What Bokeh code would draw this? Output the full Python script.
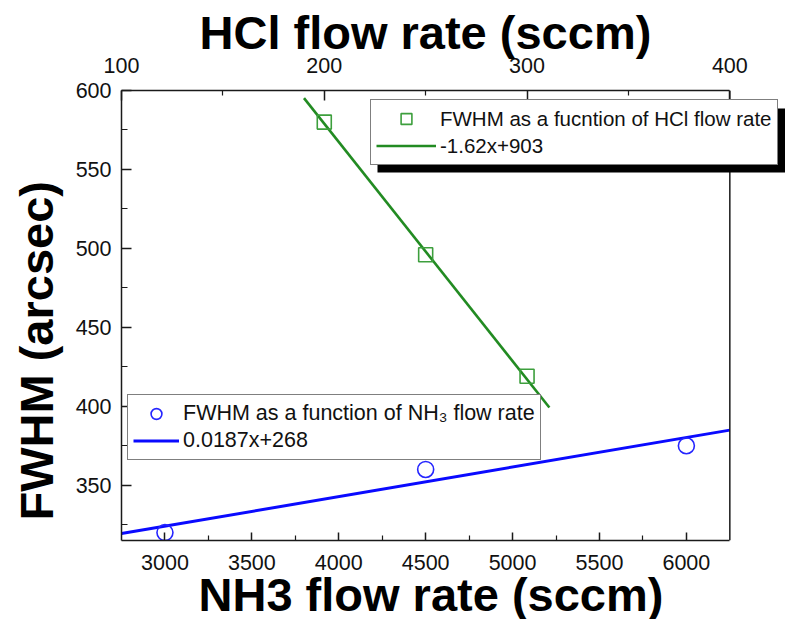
from bokeh.plotting import figure
from bokeh.models import (Range1d, LinearAxis, FixedTicker, Legend, LegendItem,
                          BoxAnnotation, Span, Title)
from bokeh.embed import file_html
from bokeh.resources import INLINE

# ---------------- data ----------------
nh3_flow = [3000, 4500, 6000]
nh3_fwhm = [320, 360, 375]
nh3_fit_x = [2750, 6250]
nh3_fit_y = [319.4, 384.9]

hcl_flow = [200, 250, 300]
hcl_fwhm = [580, 496, 419]
hcl_fit_x = [190, 311]
hcl_fit_y = [595.2, 399.2]

nh3_ticks = [3000, 3500, 4000, 4500, 5000, 5500, 6000]
nh3_minor = [3250, 3750, 4250, 4750, 5250, 5750]
hcl_ticks = [100, 200, 300, 400]
hcl_minor = [150, 250, 350]
fwhm_ticks = [350, 400, 450, 500, 550, 600]
fwhm_minor = [325, 375, 425, 475, 525, 575]

nh3_range = (2750, 6250)
hcl_range = (100, 400)
fwhm_range = (315, 600)

label_nh3 = "FWHM as a function of NH\u2083 flow rate"
label_nh3_fit = "0.0187x+268"
label_hcl = "FWHM as a fucntion of HCl flow rate"
label_hcl_fit = "-1.62x+903"
title_x = "NH3 flow rate (sccm)"
title_top = "HCl flow rate (sccm)"
title_y = "FWHM (arcsec)"

# ---------------- layout / styles ----------------
W, H = 785, 619
FRAME_L, FRAME_R, FRAME_T, FRAME_B = 117, 729, 90, 540   # axes box in pixels
FONT = "Liberation Sans"
TICK_SIZE = "21.5px"
TITLE_SIZE = "47px"
GREEN_LINE = "#228b22"
GREEN_MARK = "#3d9f3d"
BLUE_LINE = "#0a0aff"
BLUE_MARK = "#2525ff"
AX = "#1a1a1a"

# the plotting frame runs to the right canvas edge so that the legend box can
# overhang the axes box, as in the original; the axes are bounded to the box.
ext = (W - FRAME_L) / (FRAME_R - FRAME_L)
x_end = nh3_range[0] + (nh3_range[1] - nh3_range[0]) * ext
hcl_end = hcl_range[0] + (hcl_range[1] - hcl_range[0]) * ext

p = figure(width=W, height=H, output_backend="svg", toolbar_location=None,
           tools="", x_range=Range1d(nh3_range[0], x_end),
           y_range=Range1d(*fwhm_range),
           min_border_left=FRAME_L, min_border_right=0, min_border_top=FRAME_T,
           min_border_bottom=H - FRAME_B, background_fill_color="white",
           border_fill_color="white")
p.extra_x_ranges = {"hcl": Range1d(hcl_range[0], hcl_end)}
p.xgrid.visible = False
p.ygrid.visible = False
p.outline_line_color = None


def style_axis(ax, standoff, tin, mtin):
    ax.axis_line_color = AX
    ax.axis_line_width = 1.5
    ax.major_tick_line_color = AX
    ax.major_tick_line_width = 1.5
    ax.minor_tick_line_color = AX
    ax.minor_tick_line_width = 1.2
    ax.major_tick_in = tin
    ax.major_tick_out = 0
    ax.minor_tick_in = mtin
    ax.minor_tick_out = 0
    ax.major_label_text_font = FONT
    ax.major_label_text_font_size = TICK_SIZE
    ax.major_label_text_color = "#111111"
    ax.major_label_standoff = standoff


bx = p.xaxis[0]
bx.ticker = FixedTicker(ticks=nh3_ticks, minor_ticks=nh3_minor)
bx.bounds = nh3_range
style_axis(bx, 14, 8, 5)

ly = p.yaxis[0]
ly.ticker = FixedTicker(ticks=fwhm_ticks, minor_ticks=fwhm_minor)
style_axis(ly, 10, 10, 6)

tx = LinearAxis(x_range_name="hcl", bounds=hcl_range)
tx.ticker = FixedTicker(ticks=hcl_ticks, minor_ticks=hcl_minor)
style_axis(tx, 18, 10, 5)
p.add_layout(tx, "above")


def make_title(text, offset, valign, standoff):
    return Title(text=text, align="left", offset=offset, vertical_align=valign,
                 standoff=standoff, text_font=FONT, text_font_size=TITLE_SIZE,
                 text_font_style="bold", text_color="black")


p.add_layout(make_title(title_x, 77, "top", -10), "below")
p.add_layout(make_title(title_top, 78, "bottom", -8), "above")
p.add_layout(make_title(title_y, 20, "middle", 17), "left")

# right side of the axes box
p.add_layout(Span(location=nh3_range[1], dimension="height", line_color=AX,
                  line_width=1.5))

# ---------------- glyphs ----------------
b_line = p.line(nh3_fit_x, nh3_fit_y, line_color=BLUE_LINE, line_width=3)
b_pts = p.scatter(nh3_flow, nh3_fwhm, marker="circle", size=16, fill_color=None,
                  line_color=BLUE_MARK, line_width=1.6)

g_line = p.line(hcl_fit_x, hcl_fit_y, x_range_name="hcl", line_color=GREEN_LINE,
                line_width=2.6)
g_pts = p.scatter(hcl_flow, hcl_fwhm, x_range_name="hcl", marker="square", size=14,
                  fill_color=None, line_color=GREEN_MARK, line_width=1.6)

# ---------------- legends ----------------
shadow = BoxAnnotation(left=373 - FRAME_L, right=W - FRAME_L + 20,
                       top=FRAME_B - 108, bottom=FRAME_B - 172,
                       left_units="screen", right_units="screen",
                       top_units="screen", bottom_units="screen",
                       fill_color="black", fill_alpha=1.0, line_color=None)
p.add_layout(shadow)


def make_legend(items, loc, gw, fs):
    return Legend(items=items, location=loc, orientation="vertical",
                  border_line_color="black", border_line_width=1.5,
                  background_fill_color="white", background_fill_alpha=1.0,
                  padding=5, spacing=0, glyph_height=27, glyph_width=gw,
                  label_standoff=4, label_text_font=FONT,
                  label_text_font_size=fs, label_text_color="#111111",
                  label_height=20, margin=0)


lg_g = make_legend([LegendItem(label=label_hcl, renderers=[g_pts]),
                    LegendItem(label=label_hcl_fit, renderers=[g_line])],
                   (366 - FRAME_L, FRAME_B - 165), 60, "20.5px")
lg_b = make_legend([LegendItem(label=label_nh3, renderers=[b_pts]),
                    LegendItem(label=label_nh3_fit, renderers=[b_line])],
                   (123 - FRAME_L, FRAME_B - 460), 46, "21.5px")
p.add_layout(lg_g)
p.add_layout(lg_b)

open("out.html", "w").write(file_html(p, INLINE))
